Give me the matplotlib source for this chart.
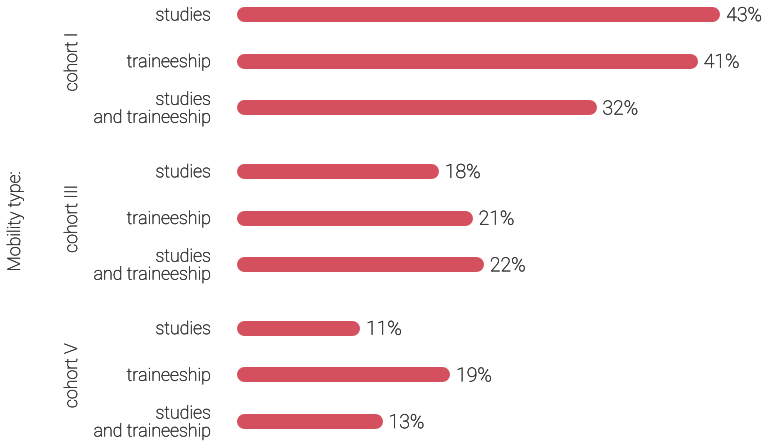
import numpy as np
import matplotlib.pyplot as plt
import matplotlib.patheffects as pe
from matplotlib.transforms import blended_transform_factory, offset_copy

plt.rcParams['font.family'] = ['Roboto', 'DejaVu Sans']
plt.rcParams['font.weight'] = 'light'

# Share of students per mobility type, in percent
cohorts = ["cohort I", "cohort III", "cohort V"]
mobility_types = ["studies", "traineeship", "studies\nand traineeship"]
cohort_I = [43, 41, 32]
cohort_III = [18, 21, 22]
cohort_V = [11, 19, 13]

BAR_COLOR = "#d5505e"
TEXT_COLOR = "#333333"
DPI = 100

# light font drawn with a hairline outline so it reads a bit darker
txt_fx = [pe.withStroke(linewidth=0.3, foreground=TEXT_COLOR)]

fig = plt.figure(figsize=(7.65, 4.43), dpi=DPI)
ax = fig.add_axes([236 / 765, 0, 1 - 236 / 765, 1])

xmax = 47.0
ax.set_xlim(0, xmax)
ax.set_ylim(9.19, -0.3)

# pixels per percent point, used to keep the round caps inside the bar length
px_per_unit = ax.get_position().width * 765 / xmax
bar_px = 15
r = (bar_px / 2) / px_per_unit
lw_pt = bar_px * 72 / DPI

label_tr = blended_transform_factory(fig.transFigure, ax.transData)
label_tr = offset_copy(label_tr, fig=fig, y=-1, units="points")

group_gap = 0.36
for g, (name, values) in enumerate(zip(cohorts, [cohort_I, cohort_III, cohort_V])):
    ys = np.arange(len(values)) + g * (len(values) + group_gap)
    for y, v, cat in zip(ys, values, mobility_types):
        ax.plot([r, v - r], [y, y], color=BAR_COLOR, lw=lw_pt,
                solid_capstyle="round")
        ax.annotate(f"{v}%", xy=(v, y), xytext=(4.5, -1.5),
                    textcoords="offset points", ha="left", va="center",
                    fontsize=14, color=TEXT_COLOR, path_effects=txt_fx)
        ax.text(211 / 765, y, cat, transform=label_tr, ha="right",
                va="center", multialignment="right", linespacing=1.0,
                fontsize=12.8, color=TEXT_COLOR, path_effects=txt_fx)
    ax.text(72 / 765, ys.mean(), name, transform=label_tr, rotation=90,
            ha="center", va="center", fontsize=12.8, color=TEXT_COLOR,
            path_effects=txt_fx)

fig.text(15 / 765, 0.5, "Mobility type:", rotation=90, ha="center",
         va="center", fontsize=12.8, color=TEXT_COLOR, path_effects=txt_fx)

ax.axis("off")
fig.savefig("out.png", dpi=DPI)
